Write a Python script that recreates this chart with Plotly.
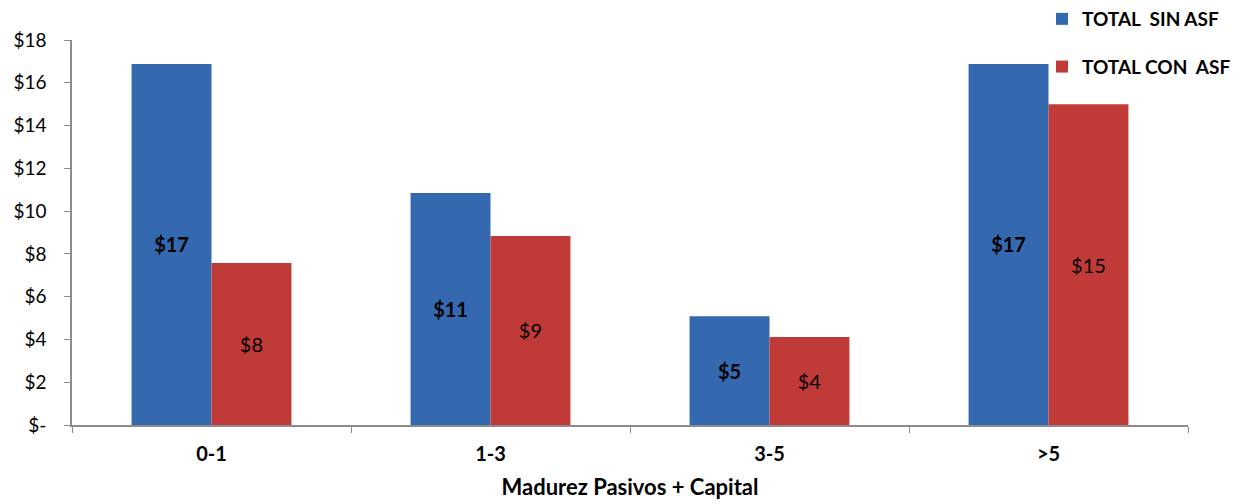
import plotly.graph_objects as go

categories = ["0-1", "1-3", "3-5", ">5"]
sin_asf = [16.88, 10.85, 5.08, 16.88]
con_asf = [7.57, 8.84, 4.11, 15.0]
series_names = ["TOTAL\u00a0 SIN ASF", "TOTAL CON\u00a0 ASF"]
y_ticks = [0, 2, 4, 6, 8, 10, 12, 14, 16, 18]
y_tick_labels = ["$-", "$2", "$4", "$6", "$8", "$10", "$12", "$14", "$16", "$18"]

FONT = "Lato, 'Open Sans', sans-serif"
LEFT, RIGHT, TOP, BOTTOM = 72, 68, 40, 79
PLOT_W = 1256 - LEFT - RIGHT
PLOT_H = 504 - TOP - BOTTOM

fig = go.Figure()
fig.add_trace(go.Bar(
    x=categories, y=sin_asf, name=series_names[0], legendgroup="a",
    marker=dict(color="#3469b0", line=dict(width=0)),
    texttemplate="<b>$%{y:.0f}</b>", textposition="inside",
    insidetextanchor="middle", textangle=0,
    textfont=dict(family=FONT, size=20, color="black"),
))
fig.add_trace(go.Bar(
    x=categories, y=con_asf, name=series_names[1], legendgroup="b",
    marker=dict(color="#c03b38", line=dict(width=0)),
    texttemplate="$%{y:.0f}", textposition="inside",
    insidetextanchor="middle", textangle=0,
    textfont=dict(family=FONT, size=20, color="black"),
))

fig.update_layout(
    width=1256, height=504,
    margin=dict(l=LEFT, r=RIGHT, t=TOP, b=BOTTOM, autoexpand=False),
    paper_bgcolor="white", plot_bgcolor="white",
    barmode="group", bargap=0.427, bargroupgap=0,
    font=dict(family=FONT, color="black"),
    uniformtext=dict(mode=False),
    legend=dict(
        x=(1042 - LEFT) / PLOT_W, xanchor="left",
        y=1 + 40 / PLOT_H, yanchor="top",
        font=dict(family=FONT, size=19, color="black", weight="bold"),
        tracegroupgap=20, itemwidth=30, bgcolor="rgba(0,0,0,0)",
    ),
    showlegend=True,
)
fig.update_xaxes(
    showline=True, linecolor="#8c8c8c", linewidth=1.5,
    ticks="outside", ticklen=6, tickcolor="#8c8c8c", tickson="boundaries",
    ticklabelstandoff=10,
    tickfont=dict(family=FONT, size=20, color="black", weight="bold"),
    title=dict(text="<b>Madurez Pasivos + Capital</b>",
               font=dict(family=FONT, size=22, color="black"), standoff=16),
    showgrid=False, zeroline=False,
)
fig.update_yaxes(
    range=[0, 18], tickvals=y_ticks, ticktext=y_tick_labels,
    showline=True, linecolor="#8c8c8c", linewidth=1.5,
    ticks="outside", ticklen=6, tickcolor="#8c8c8c",
    ticklabelstandoff=14,
    tickfont=dict(family=FONT, size=19, color="black"),
    showgrid=False, zeroline=False,
)

fig.write_html("out.html")
